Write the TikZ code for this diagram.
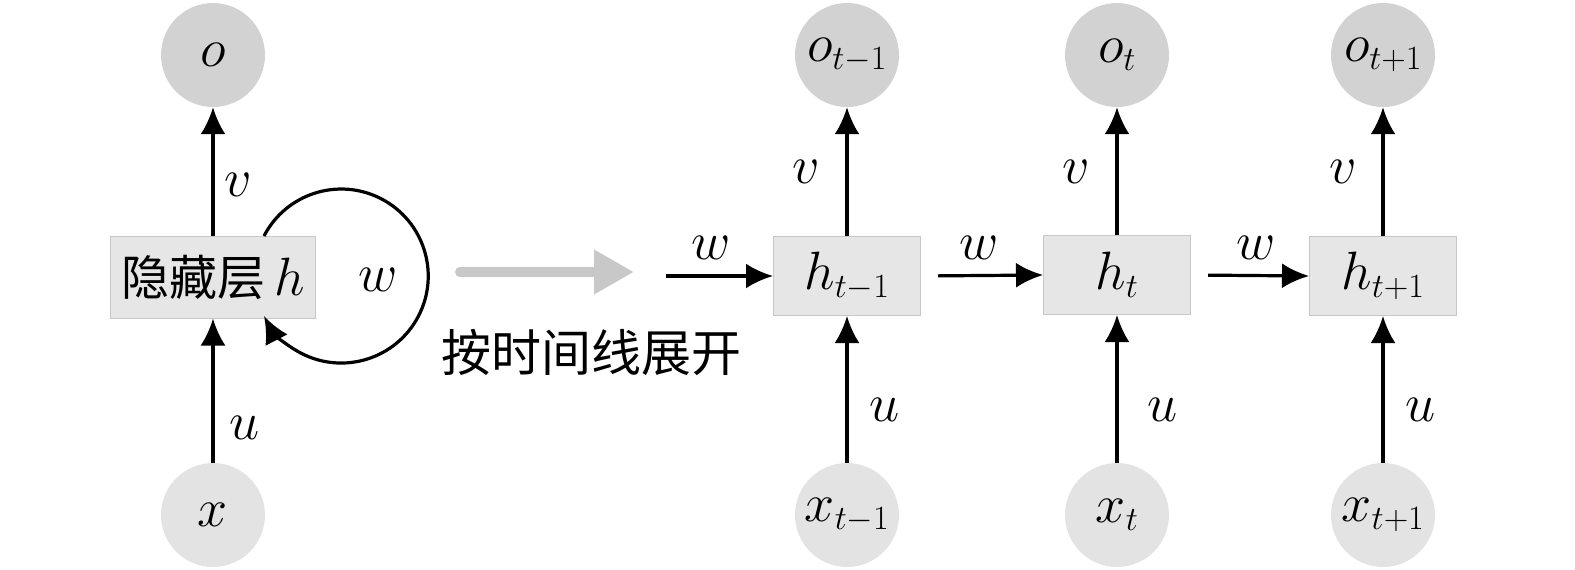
\RequirePackage{fix-cm}
\documentclass[tikz,border=0pt]{standalone}
\usepackage{fontspec}
\newfontfamily\cjk{Noto Sans CJK SC}
\usetikzlibrary{arrows.meta}
\definecolor{ocol}{HTML}{D2D2D2}
\definecolor{xcol}{HTML}{E3E3E3}
\definecolor{boxc}{HTML}{E6E6E6}
\definecolor{bord}{HTML}{C8C8C8}
\definecolor{garr}{HTML}{C8C8C8}
\DeclareMathSizes{54}{54}{34}{27}
\newcommand{\bigmath}{\fontsize{54}{54}\selectfont}
\begin{document}
\begin{tikzpicture}[x=1pt,y=-1pt,
  outc/.style={circle, fill=ocol, minimum size=104pt, inner sep=0pt, font=\bigmath},
  inc/.style={circle, fill=xcol, minimum size=104pt, inner sep=0pt, font=\bigmath},
  hbox/.style={draw=bord, fill=boxc, line width=1pt, minimum width=147pt, minimum height=79pt, inner sep=0pt, font=\bigmath},
  arr/.style={line width=3.2pt, -{Latex[length=27pt,width=25pt]}},
  lbl/.style={font=\bigmath, inner sep=0pt}]
\useasboundingbox (0,0) rectangle (1575,570);
% left folded network
\node[outc] (o0) at (213,55) {$o$};
\node[inc] (x0) at (213,515) {$x$};
\node[hbox, minimum width=205pt, minimum height=82pt] (h0) at (213,277) {{\cjk\fontsize{48}{48}\selectfont 隐藏层}\,$h$};
\draw[arr] (h0) -- (o0);
\draw[arr] (x0) -- (h0);
\coordinate (ls) at (264,236);
\draw[arr] (ls) arc[start angle=-152.6, end angle=152.6, radius=87];
\node[lbl] (v0) at (238,185) {$v$};
\node[lbl] (u0) at (245,428) {$u$};
\node[lbl] (w0) at (378,280) {$w$};
% unfold arrow
\coordinate (ga) at (460,272);
\coordinate (gb) at (634,272);
\draw[garr, line width=10pt, line cap=round, -{Triangle[length=40pt,width=42pt]}] (ga) -- (gb);
\node[inner sep=0pt, font=\cjk\fontsize{50}{50}\selectfont] (lab) at (591,352) {按时间线展开};
% unfolded network
\node[outc] (o1) at (847,55) {$o_{t-1}$};
\node[outc] (o2) at (1117,55) {$o_{t}$};
\node[outc] (o3) at (1383,55) {$o_{t+1}$};
\node[hbox] (h1) at (847,276) {$h_{t-1}$};
\node[hbox] (h2) at (1117,275) {$h_{t}$};
\node[hbox] (h3) at (1383,276) {$h_{t+1}$};
\node[inc] (x1) at (847,515) {$x_{t-1}$};
\node[inc] (x2) at (1117,515) {$x_{t}$};
\node[inc] (x3) at (1383,515) {$x_{t+1}$};
\foreach \i in {1,2,3}{
  \draw[arr] (h\i) -- (o\i);
  \draw[arr] (x\i) -- (h\i);
}
\coordinate (win) at (666,276);
\draw[arr] (win) -- (h1.west);
\draw[arr, shorten <=17pt] (h1.east) -- (h2.west);
\draw[arr, shorten <=17pt] (h2.east) -- (h3.west);
\node[lbl] (v1) at (806,172) {$v$};
\node[lbl] (v2) at (1076,172) {$v$};
\node[lbl] (v3) at (1343,172) {$v$};
\node[lbl] (u1) at (885,410) {$u$};
\node[lbl] (u2) at (1163,410) {$u$};
\node[lbl] (u3) at (1421,410) {$u$};
\node[lbl] (w1) at (711,248) {$w$};
\node[lbl] (w2) at (979,248) {$w$};
\node[lbl] (w3) at (1256,248) {$w$};
\end{tikzpicture}
\end{document}
